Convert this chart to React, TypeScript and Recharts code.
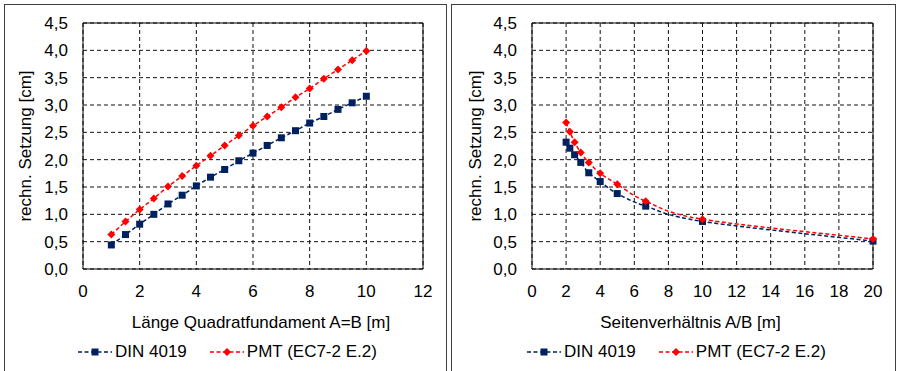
import { LineChart, Line, XAxis, YAxis, CartesianGrid, ReferenceArea, Legend, Label } from 'recharts';

// left: square footing length A=B [m]
const squareLen = [1, 1.5, 2, 2.5, 3, 3.5, 4, 4.5, 5, 5.5, 6, 6.5, 7, 7.5, 8, 8.5, 9, 9.5, 10];
const dinSquare = [0.44, 0.63, 0.82, 1.0, 1.19, 1.35, 1.52, 1.68, 1.82, 1.98, 2.12, 2.26, 2.4, 2.53, 2.67, 2.79, 2.92, 3.04, 3.16];
const pmtSquare = [0.63, 0.87, 1.09, 1.29, 1.51, 1.7, 1.89, 2.07, 2.26, 2.44, 2.62, 2.79, 2.96, 3.14, 3.3, 3.48, 3.65, 3.82, 3.99];

// right: aspect ratio A/B
const ratio = [2, 2.22, 2.5, 2.86, 3.33, 4, 5, 6.67, 10, 20];
const dinRatio = [2.32, 2.21, 2.09, 1.95, 1.76, 1.6, 1.38, 1.15, 0.87, 0.51];
const pmtRatio = [2.68, 2.51, 2.32, 2.13, 1.95, 1.75, 1.55, 1.24, 0.91, 0.55];

const yTicks = [0, 0.5, 1, 1.5, 2, 2.5, 3, 3.5, 4, 4.5];
const leftXTicks = [0, 2, 4, 6, 8, 10, 12];
const rightXTicks = [0, 2, 4, 6, 8, 10, 12, 14, 16, 18, 20];

const NAVY = '#002060';
const RED = '#ff0000';
const FONT = '"Liberation Sans", Arial, sans-serif';
const FS = 17;

const fmtY = (v: number) => v.toFixed(1).replace('.', ',');

// Excel-like smoothed line (Catmull-Rom style bezier segments)
function excelSmooth(context: any) {
  let pts: [number, number][] = [];
  return {
    areaStart() {},
    areaEnd() {},
    lineStart() { pts = []; },
    lineEnd() {
      const n = pts.length;
      if (n === 0) return;
      context.moveTo(pts[0][0], pts[0][1]);
      for (let i = 0; i < n - 1; i++) {
        const p0 = pts[Math.max(i - 1, 0)];
        const p1 = pts[i];
        const p2 = pts[i + 1];
        const p3 = pts[Math.min(i + 2, n - 1)];
        context.bezierCurveTo(
          p1[0] + (p2[0] - p0[0]) / 6, p1[1] + (p2[1] - p0[1]) / 6,
          p2[0] - (p3[0] - p1[0]) / 6, p2[1] - (p3[1] - p1[1]) / 6,
          p2[0], p2[1],
        );
      }
    },
    point(x: number, y: number) { pts.push([+x, +y]); },
  };
}

const SquareDot = (p: any) => {
  if (p.cx == null || p.cy == null) return <g key={p.index} />;
  return <rect key={p.index} x={p.cx - 3.5} y={p.cy - 3.5} width={7} height={7} fill={NAVY} />;
};

const DiamondDot = (p: any) => {
  if (p.cx == null || p.cy == null) return <g key={p.index} />;
  const { cx, cy } = p;
  return <polygon key={p.index} points={`${cx},${cy - 4} ${cx + 4},${cy} ${cx},${cy + 4} ${cx - 4},${cy}`} fill={RED} />;
};

function Swatch({ color, shape }: { color: string; shape: 'square' | 'diamond' }) {
  return (
    <svg width={34} height={12}>
      <line x1={0} y1={6} x2={34} y2={6} stroke={color} strokeWidth={1.5} strokeDasharray="4 2.5" />
      {shape === 'square'
        ? <rect x={13.5} y={2.5} width={7} height={7} fill={color} />
        : <polygon points="17,2 21,6 17,10 13,6" fill={color} />}
    </svg>
  );
}

function LegendContent({ payload }: any) {
  return (
    <div style={{ display: 'flex', alignItems: 'center', height: 24, fontSize: FS, color: '#000', fontFamily: FONT }}>
      {(payload || []).map((p: any, i: number) => (
        <div key={p.value} style={{ display: 'flex', alignItems: 'center', marginLeft: i === 0 ? 0 : 23 }}>
          <Swatch color={p.color} shape={i === 0 ? 'square' : 'diamond'} />
          <span style={{ marginLeft: 3, whiteSpace: 'nowrap' }}>{p.value}</span>
        </div>
      ))}
    </div>
  );
}

interface PanelProps {
  data: Record<string, number>[];
  xTicks: number[];
  xMax: number;
  xTitle: string;
  xTitleDx: number;
  yTitleX: number;
  curve: any;
  right: number;
}

function Panel({ data, xTicks, xMax, xTitle, xTitleDx, yTitleX, curve, right }: PanelProps) {
  return (
    <LineChart width={448} height={371} data={data} margin={{ top: 23, right, left: 0, bottom: 9 }}>
      <CartesianGrid stroke="#111" strokeDasharray="4 3" verticalValues={xTicks} horizontalValues={yTicks} />
      <XAxis
        type="number"
        dataKey="x"
        domain={[0, xMax]}
        ticks={xTicks}
        axisLine={false}
        tickLine={false}
        tickMargin={10}
        tick={{ fill: '#000', fontSize: FS, fontFamily: FONT }}
        height={69}
      >
        <Label value={xTitle} position="insideBottom" offset={10} dx={xTitleDx} fill="#000" fontSize={FS} fontFamily={FONT} />
      </XAxis>
      <YAxis
        type="number"
        domain={[0, 4.5]}
        ticks={yTicks}
        axisLine={false}
        tickLine={false}
        tickMargin={9}
        tickFormatter={fmtY}
        tick={{ fill: '#000', fontSize: FS, fontFamily: FONT }}
        width={83}
      >
        <Label value="rechn. Setzung [cm]" angle={-90} position="insideLeft" offset={yTitleX} fill="#000" fontSize={FS} fontFamily={FONT} style={{ textAnchor: 'middle' }} />
      </YAxis>
      <ReferenceArea x1={0} x2={xMax} y1={0} y2={4.5} fill="none" stroke="#000" strokeWidth={1} fillOpacity={0} ifOverflow="visible" />
      <Legend
        verticalAlign="bottom"
        content={<LegendContent />}
        wrapperStyle={{ left: 78, top: 340, width: 330, height: 24 }}
      />
      <Line
        type={curve}
        dataKey="din"
        name="DIN 4019"
        stroke={NAVY}
        strokeWidth={1.5}
        strokeDasharray="4 2.5"
        dot={SquareDot}
        activeDot={false}
        isAnimationActive={false}
      />
      <Line
        type={curve}
        dataKey="pmt"
        name="PMT (EC7-2 E.2)"
        stroke={RED}
        strokeWidth={1.5}
        strokeDasharray="4 2.5"
        dot={DiamondDot}
        activeDot={false}
        isAnimationActive={false}
      />
    </LineChart>
  );
}

const leftData = squareLen.map((x, i) => ({ x, din: dinSquare[i], pmt: pmtSquare[i] }));
const rightData = ratio.map((x, i) => ({ x, din: dinRatio[i], pmt: pmtRatio[i] }));

export default function App() {
  return (
    <div style={{ position: 'absolute', left: 0, top: 0, width: 897, height: 371, background: '#fff', overflow: 'hidden', fontFamily: FONT }}>
      <div style={{ position: 'absolute', left: 4, top: 4, width: 443, height: 372, border: '1px solid #404040', boxSizing: 'border-box' }} />
      <div style={{ position: 'absolute', left: 451, top: 4, width: 445, height: 372, border: '1px solid #404040', boxSizing: 'border-box' }} />
      <div style={{ position: 'absolute', left: 0, top: 0 }}>
        <Panel data={leftData} xTicks={leftXTicks} xMax={12} xTitle="Länge Quadratfundament A=B [m]" xTitleDx={8} yTitleX={25} curve="linear" right={25} />
      </div>
      <div style={{ position: 'absolute', left: 449, top: 0 }}>
        <Panel data={rightData} xTicks={rightXTicks} xMax={20} xTitle="Seitenverhältnis A/B [m]" xTitleDx={-12} yTitleX={26} curve={excelSmooth} right={24} />
      </div>
    </div>
  );
}
